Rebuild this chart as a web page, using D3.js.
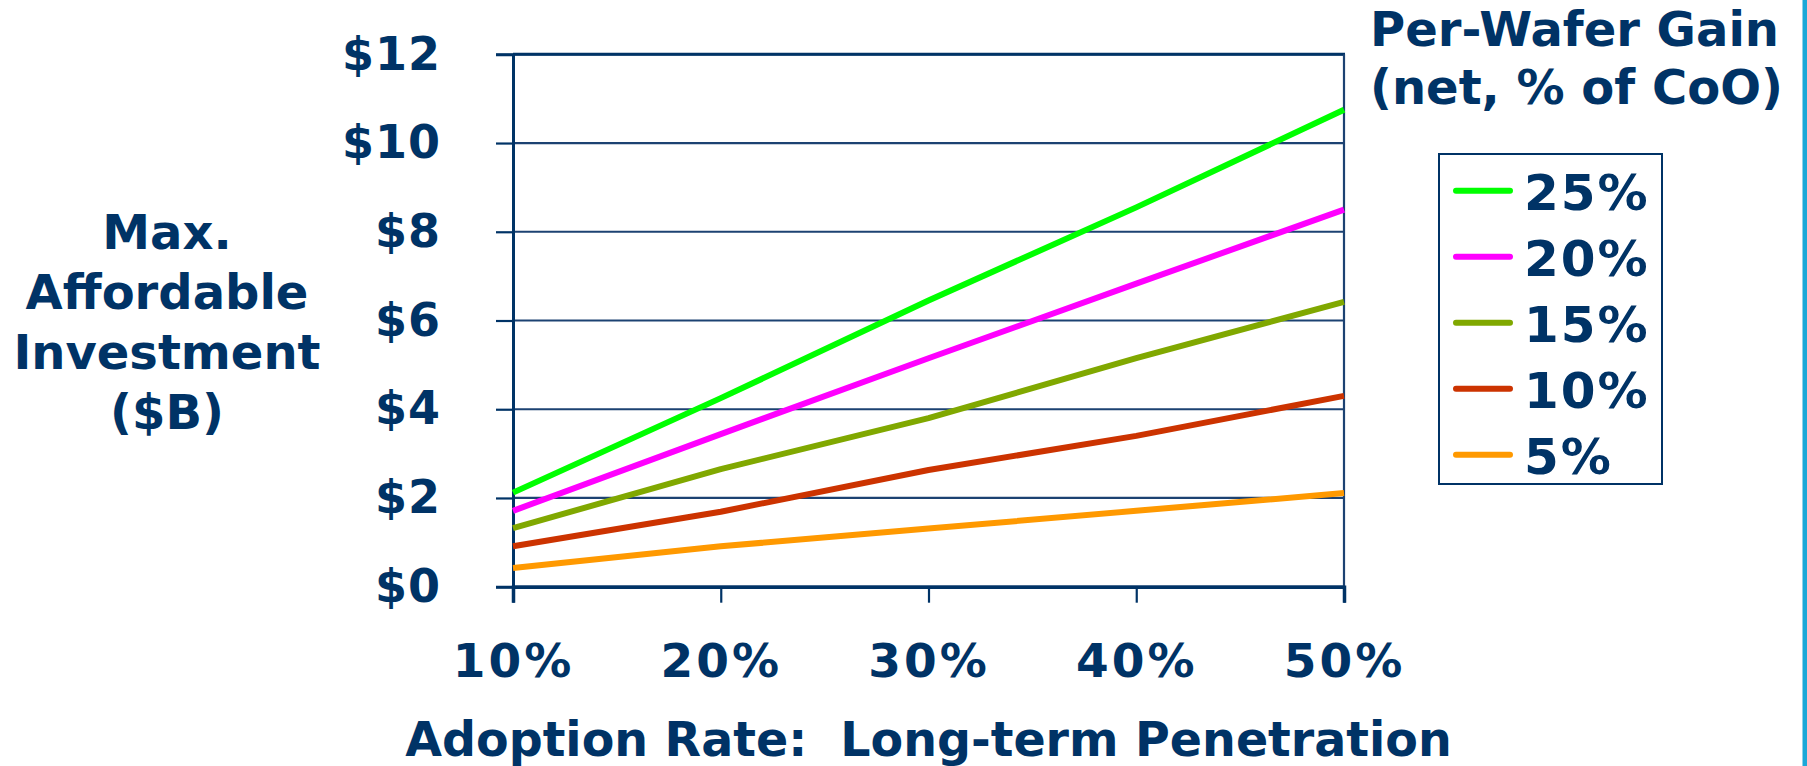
<!DOCTYPE html>
<html>
<head>
<meta charset="utf-8">
<script src="https://cdn.jsdelivr.net/npm/d3@7/dist/d3.min.js"></script>
<style>
  html, body { margin: 0; padding: 0; background: #ffffff; }
  svg { display: block; }
  text { font-family: "DejaVu Sans", Verdana, sans-serif; font-weight: bold; fill: #003366; }
</style>
</head>
<body>
<svg id="chart" width="1807" height="766"></svg>
<script>
// ---- data ----
const adoptionRates = [10, 20, 30, 40, 50];
const xTickLabels = ["10%", "20%", "30%", "40%", "50%"];
const yTickValues = [0, 2, 4, 6, 8, 10, 12];
const seriesNames = ["25%", "20%", "15%", "10%", "5%"];
const gain25 = [2.12, 4.25, 6.45, 8.55, 10.75];
const gain20 = [1.71, 3.44, 5.15, 6.83, 8.50];
const gain15 = [1.32, 2.65, 3.80, 5.15, 6.42];
const gain10 = [0.91, 1.69, 2.63, 3.40, 4.30];
const gain5  = [0.42, 0.91, 1.31, 1.71, 2.11];
const seriesValues = [gain25, gain20, gain15, gain10, gain5];
const seriesColors = ["#00ff00", "#ff00ff", "#80a800", "#cc3300", "#ff9900"];

(function () {
const svg = d3.select("#chart");
const navy = "#003366";

const pL = 513, pR = 1344, pT = 54.3, pB = 586.7;
const x = d3.scaleLinear().domain([10, 50]).range([pL, pR]);
const y = d3.scaleLinear().domain([0, 12]).range([pB, pT]);

// gridlines
svg.append("g").selectAll("line").data(yTickValues).join("line")
  .attr("x1", pL).attr("x2", pR)
  .attr("y1", d => y(d)).attr("y2", d => y(d))
  .attr("stroke", "#1c4272").attr("stroke-width", 2.2);

// plot border (top and right)
svg.append("line").attr("x1", pL).attr("x2", pR + 1).attr("y1", pT).attr("y2", pT)
  .attr("stroke", navy).attr("stroke-width", 3);
svg.append("line").attr("x1", pR).attr("x2", pR).attr("y1", pT).attr("y2", pB)
  .attr("stroke", "#1c4272").attr("stroke-width", 2.2);

// y axis
const yAxis = d3.axisLeft(y).tickValues(yTickValues).tickSize(17).tickPadding(55)
  .tickFormat(d => "$" + d);
const gy = svg.append("g").attr("transform", `translate(${pL},0)`).call(yAxis);
gy.select(".domain").attr("stroke", navy).attr("stroke-width", 3);
gy.selectAll(".tick line").attr("stroke", navy).attr("stroke-width", 2.2);
gy.selectAll(".tick text").style("font-size", "46px").attr("fill", navy)
  .style("font-family", "'DejaVu Sans', Verdana, sans-serif").style("font-weight", "bold")
  .style("letter-spacing", "1px");

// x axis
const xAxis = d3.axisBottom(x).tickValues(adoptionRates).tickSize(16).tickPadding(41)
  .tickFormat((d, i) => xTickLabels[i]);
const gx = svg.append("g").attr("transform", `translate(0,${pB})`).call(xAxis);
gx.select(".domain").attr("stroke", navy).attr("stroke-width", 3.5);
gx.selectAll(".tick line").attr("stroke", navy).attr("stroke-width", 2.2);
gx.selectAll(".tick text").style("font-size", "47px").attr("fill", navy)
  .style("font-family", "'DejaVu Sans', Verdana, sans-serif").style("font-weight", "bold")
  .style("letter-spacing", "3px");

// series lines
const line = d3.line().x((d, i) => x(adoptionRates[i])).y(d => y(d));
svg.append("g").selectAll("path").data(seriesValues).join("path")
  .attr("d", d => line(d))
  .attr("fill", "none")
  .attr("stroke", (d, i) => seriesColors[i])
  .attr("stroke-width", 6)
  .attr("stroke-linejoin", "round");

// y title
const yTitle = ["Max.", "Affordable", "Investment", "($B)"];
svg.append("g").selectAll("text").data(yTitle).join("text")
  .attr("x", 167).attr("y", (d, i) => 249 + i * 60)
  .attr("text-anchor", "middle").style("font-size", "48px").text(d => d);

// x title
svg.append("text").attr("x", (pL + pR) / 2).attr("y", 756)
  .attr("text-anchor", "middle").style("font-size", "47.5px")
  .attr("xml:space", "preserve").style("white-space", "pre")
  .text("Adoption Rate:  Long-term Penetration");

// legend title
const legendTitle = ["Per-Wafer Gain", "(net, % of CoO)"];
svg.append("g").selectAll("text").data(legendTitle).join("text")
  .attr("x", 1370).attr("y", (d, i) => 46 + i * 58)
  .style("font-size", "48px").text(d => d);

// legend box
svg.append("rect").attr("x", 1439).attr("y", 154).attr("width", 223).attr("height", 330)
  .attr("fill", "none").attr("stroke", navy).attr("stroke-width", 2);
const lg = svg.append("g").selectAll("g").data(seriesNames).join("g")
  .attr("transform", (d, i) => `translate(0,${190.7 + i * 66})`);
lg.append("line").attr("x1", 1456).attr("x2", 1510).attr("y1", 0).attr("y2", 0)
  .attr("stroke", (d, i) => seriesColors[i]).attr("stroke-width", 6).attr("stroke-linecap", "round");
lg.append("text").attr("x", 1524).attr("y", 19).style("font-size", "50px")
  .style("letter-spacing", "2px").text(d => d);

// right edge accent bar
svg.append("rect").attr("x", 1802.5).attr("y", 0).attr("width", 4.5).attr("height", 766)
  .attr("fill", "#1aa8d8");
})();
</script>
</body>
</html>
